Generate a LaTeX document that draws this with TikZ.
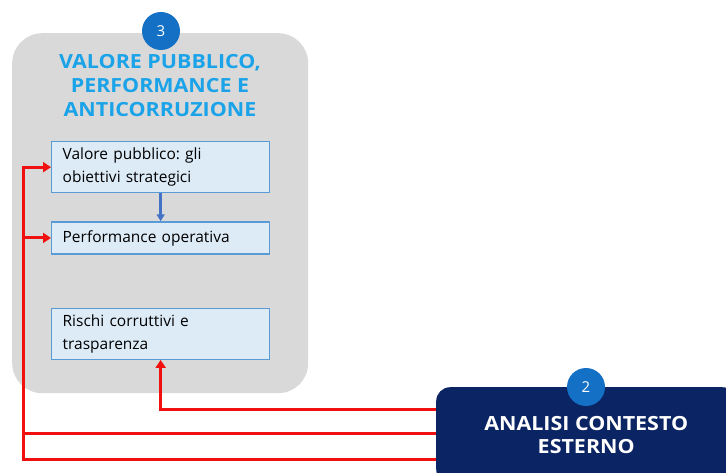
\documentclass[tikz,border=0pt]{standalone}
\usepackage{fontspec}
\setmainfont{Open Sans}
\newfontfamily\headfont{Open Sans}[FakeStretch=1.1]
\usetikzlibrary{positioning, calc, arrows.meta}
\definecolor{panelgray}{HTML}{D9D9D9}
\definecolor{titleblue}{HTML}{1AA3E8}
\definecolor{badgeblue}{HTML}{1470C4}
\definecolor{boxfill}{HTML}{DDEBF7}
\definecolor{boxedge}{HTML}{5B9BD5}
\definecolor{navy}{HTML}{0B2463}
\definecolor{linkred}{HTML}{F01010}
\definecolor{linkblue}{HTML}{4472C4}
\frenchspacing

\begin{document}
\begin{tikzpicture}[x=1pt, y=-1pt,
    every node/.style={inner sep=0pt},
    panel/.style={fill=panelgray, rounded corners=30pt, minimum width=296pt, minimum height=360pt, anchor=north west},
    stepbox/.style={draw=boxedge, fill=boxfill, line width=1.3pt, minimum width=218pt, text width=196pt, align=left, font=\fontsize{15.5}{23}\selectfont},
    badge/.style={circle, fill=badgeblue, text=white, minimum size=38pt, font=\fontsize{15}{17}\selectfont},
    redline/.style={draw=linkred, line width=3pt},
    redarrow/.style={redline, -{Triangle[length=8pt,width=10pt]}},
  ]
    \useasboundingbox (0,0) rectangle (726,473);
    \clip (0,0) rectangle (726,473);

    \node[panel] (panel) at (12,33) {};
    \node[badge] (badge3) at (161,31) {3};
    \node[align=center, text=titleblue, font=\headfont\fontsize{19.5}{24}\selectfont\bfseries] (title) at (160,86)
      {VALORE PUBBLICO,\\PERFORMANCE E\\ANTICORRUZIONE};

    \node[stepbox, minimum height=51pt, anchor=north west] (valore) at (51,141)
      {Valore pubblico: gli\\obiettivi strategici};
    \node[stepbox, minimum height=32pt, below=28pt of valore] (perf) {Performance operativa};
    \node[stepbox, minimum height=51pt, below=53pt of perf] (rischi) {Rischi corruttivi e\\trasparenza};

    \node[fill=navy, rounded corners=14pt, minimum width=300pt, minimum height=96pt, anchor=north west,
      align=center, text=white, font=\headfont\fontsize{19.5}{23}\selectfont\bfseries] (esterno) at (436,387)
      {ANALISI CONTESTO\\ESTERNO};
    \node[badge] (badge2) at (esterno.north -| 586,0) {2};

    \draw[linkblue, line width=2.4pt, -{Triangle[length=7pt,width=8pt]}] (valore) -- (perf);

    \coordinate (out1) at ($(esterno.north west)+(0,22)$);
    \coordinate (out2) at ($(esterno.north west)+(0,46)$);
    \coordinate (out3) at ($(esterno.north west)+(0,72)$);
    \coordinate (rail) at (23,0);

    \draw[redarrow] (out1) -| (rischi.south);
    \draw[redline] (out2) -- (out2 -| rail);
    \draw[redarrow] (out3) -| (rail |- valore.west) -- (valore.west);
    \draw[redarrow] (rail |- perf.west) -- (perf.west);
\end{tikzpicture}
\end{document}
